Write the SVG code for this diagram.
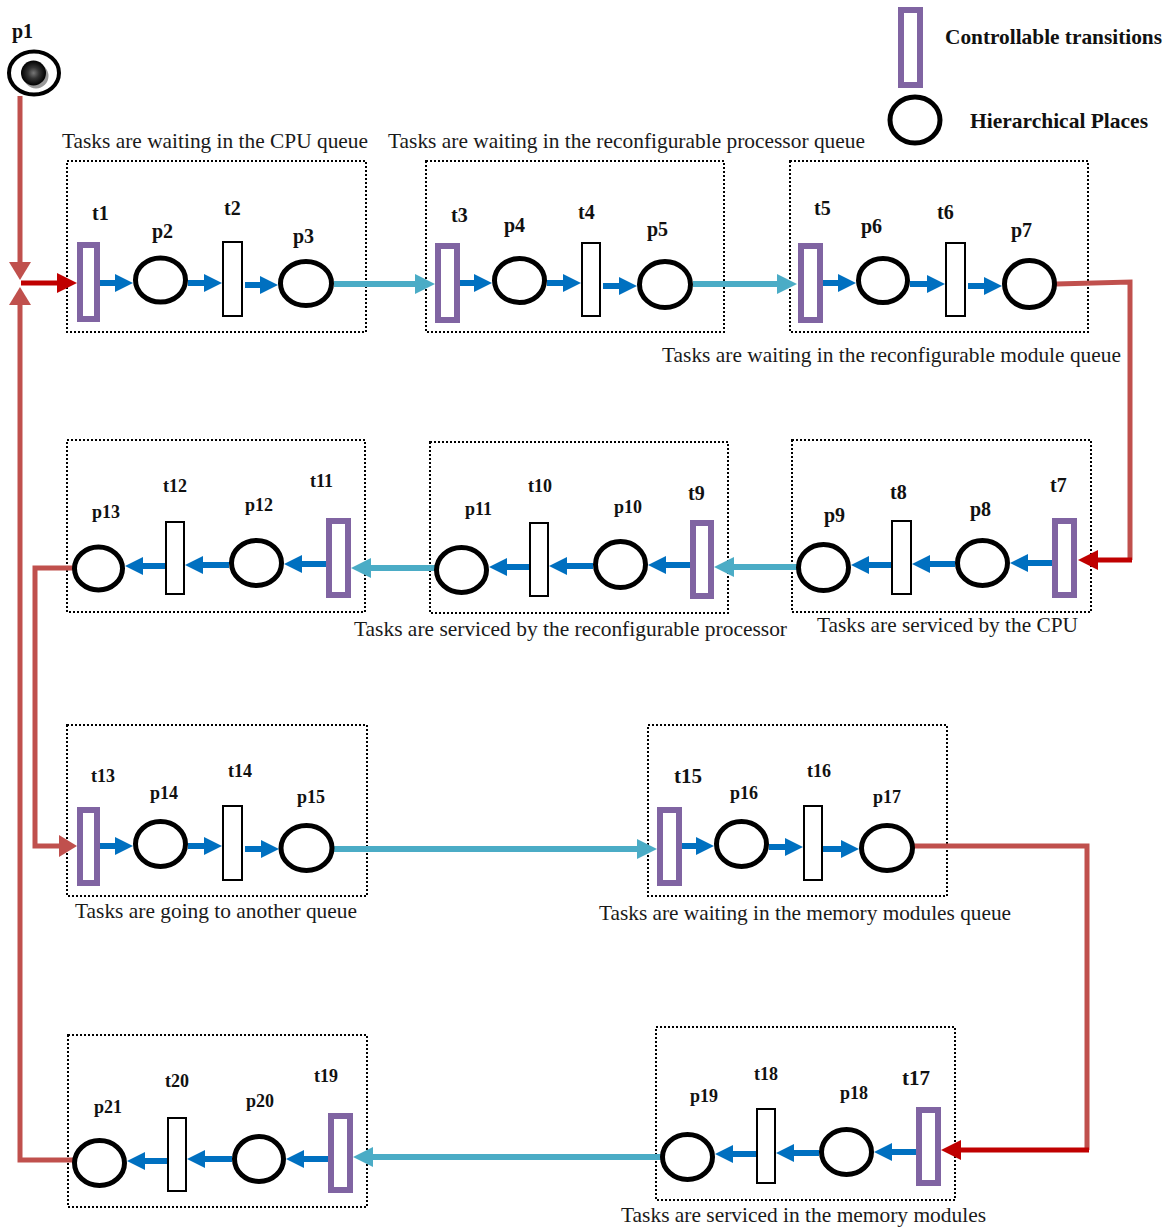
<svg xmlns="http://www.w3.org/2000/svg" width="1168" height="1228" viewBox="0 0 1168 1228">
<defs>
<style>
.box{fill:none;stroke:#000;stroke-width:2;stroke-dasharray:2 2}
.pl{fill:#fff;stroke:#000;stroke-width:5}
.tr{fill:#fff;stroke:#000;stroke-width:2}
.ct{fill:#fff;stroke:#8064a2;stroke-width:6}
.lb{font-family:"Liberation Serif","Times New Roman",serif;font-weight:bold;fill:#111}
.cap{font-family:"Liberation Serif","Times New Roman",serif;font-size:21px;fill:#1a1a1a}
.bl{fill:none;stroke:#0070c0;stroke-width:6;marker-end:url(#ab)}
.cy{fill:none;stroke:#4bacc6;stroke-width:6;marker-end:url(#ac)}
.rd{fill:none;stroke:#c0504d;stroke-width:5}
.dr{fill:none;stroke:#c00000;stroke-width:5;marker-end:url(#ad)}
</style>
<marker id="ab" viewBox="0 0 18 18" refX="9" refY="9" markerWidth="18" markerHeight="18" markerUnits="userSpaceOnUse" orient="auto"><path d="M0,0 L18,9 L0,18 z" fill="#0070c0"/></marker>
<marker id="ac" viewBox="0 0 20 20" refX="10" refY="10" markerWidth="20" markerHeight="20" markerUnits="userSpaceOnUse" orient="auto"><path d="M0,0 L20,10 L0,20 z" fill="#4bacc6"/></marker>
<marker id="ad" viewBox="0 0 20 20" refX="10" refY="10" markerWidth="20" markerHeight="20" markerUnits="userSpaceOnUse" orient="auto"><path d="M0,0 L20,10 L0,20 z" fill="#c00000"/></marker>
<marker id="ar" viewBox="0 0 18 22" refX="9" refY="11" markerWidth="18" markerHeight="22" markerUnits="userSpaceOnUse" orient="auto"><path d="M0,0 L18,11 L0,22 z" fill="#c0504d"/></marker>
<radialGradient id="tok" cx="0.5" cy="0.5" r="0.5" fx="0.5" fy="0.5">
<stop offset="0" stop-color="#777"/><stop offset="0.45" stop-color="#333"/><stop offset="1" stop-color="#000"/>
</radialGradient>
</defs>
<rect width="1168" height="1228" fill="#fff"/>

<!-- legend -->
<g id="legend">
<rect x="901" y="10" width="19" height="75" class="ct"/>
<text x="945" y="44" class="lb" font-size="21" textLength="217" lengthAdjust="spacingAndGlyphs">Controllable transitions</text>
<ellipse cx="915" cy="120" rx="25" ry="23" class="pl"/>
<text x="970" y="128" class="lb" font-size="21" textLength="178" lengthAdjust="spacingAndGlyphs">Hierarchical Places</text>
</g>

<!-- captions -->
<g id="captions">
<text x="62" y="148" class="cap" textLength="306" lengthAdjust="spacingAndGlyphs">Tasks are waiting in the CPU queue</text>
<text x="388" y="148" class="cap" textLength="477" lengthAdjust="spacingAndGlyphs">Tasks are waiting in the reconfigurable processor queue</text>
<text x="662" y="362" class="cap" textLength="459" lengthAdjust="spacingAndGlyphs">Tasks are waiting in the reconfigurable module queue</text>
<text x="354" y="636" class="cap" textLength="433" lengthAdjust="spacingAndGlyphs">Tasks are serviced by the reconfigurable processor</text>
<text x="817" y="632" class="cap" textLength="261" lengthAdjust="spacingAndGlyphs">Tasks are serviced by the CPU</text>
<text x="75" y="918" class="cap" textLength="282" lengthAdjust="spacingAndGlyphs">Tasks are going to another queue</text>
<text x="599" y="920" class="cap" textLength="412" lengthAdjust="spacingAndGlyphs">Tasks are waiting in the memory modules queue</text>
<text x="621" y="1222" class="cap" textLength="365" lengthAdjust="spacingAndGlyphs">Tasks are serviced in the memory modules</text>
</g>

<!-- boxes -->
<g id="boxes">
<rect x="67" y="161" width="299" height="171" class="box"/>
<rect x="426" y="161" width="298" height="171" class="box"/>
<rect x="790" y="161" width="298" height="171" class="box"/>
<rect x="67" y="440" width="298" height="172" class="box"/>
<rect x="430" y="442" width="298" height="171" class="box"/>
<rect x="792" y="440" width="299" height="172" class="box"/>
<rect x="67" y="725" width="300" height="171" class="box"/>
<rect x="648" y="725" width="299" height="171" class="box"/>
<rect x="68" y="1035" width="299" height="172" class="box"/>
<rect x="656" y="1027" width="299" height="173" class="box"/>
</g>

<!-- connectors -->
<g id="connectors">
<path class="rd" d="M20 96 V271" marker-end="url(#ar)"/>
<path class="dr" d="M21 283 H67"/>
<path class="rd" d="M74 1160 H20 V296" marker-end="url(#ar)"/>
<path class="rd" d="M1056 284 L1130 282 V560"/>
<path class="dr" d="M1132 560 H1088"/>
<path class="rd" d="M73 568 H35 V846 H68" marker-end="url(#ar)"/>
<path class="rd" d="M914 846 H1087 V1150"/>
<path class="dr" d="M1089 1150 H951"/>

<path class="cy" d="M334 284 H425"/>
<path class="cy" d="M693 284 H787"/>
<path class="cy" d="M797 567 H724"/>
<path class="cy" d="M435 568 H361"/>
<path class="cy" d="M334 849 H647"/>
<path class="cy" d="M661 1157 H363"/>

<path class="bl" d="M100 283 H124"/>
<path class="bl" d="M188 283 H213"/>
<path class="bl" d="M245 285 H269"/>
<path class="bl" d="M460 283 H483"/>
<path class="bl" d="M547 283 H572"/>
<path class="bl" d="M603 286 H628"/>
<path class="bl" d="M823 283 H847"/>
<path class="bl" d="M910 284 H936"/>
<path class="bl" d="M968 286 H993"/>
<path class="bl" d="M326 564 H293"/>
<path class="bl" d="M229 565 H194"/>
<path class="bl" d="M165 566 H134"/>
<path class="bl" d="M690 565 H657"/>
<path class="bl" d="M593 566 H558"/>
<path class="bl" d="M529 567 H498"/>
<path class="bl" d="M1052 563 H1019"/>
<path class="bl" d="M955 564 H921"/>
<path class="bl" d="M891 565 H860"/>
<path class="bl" d="M100 846 H124"/>
<path class="bl" d="M188 846 H213"/>
<path class="bl" d="M245 849 H270"/>
<path class="bl" d="M682 846 H705"/>
<path class="bl" d="M769 847 H794"/>
<path class="bl" d="M823 849 H850"/>
<path class="bl" d="M328 1159 H295"/>
<path class="bl" d="M232 1159 H196"/>
<path class="bl" d="M167 1161 H136"/>
<path class="bl" d="M916 1152 H883"/>
<path class="bl" d="M819 1153 H785"/>
<path class="bl" d="M756 1154 H724"/>
</g>

<!-- p1 -->
<g id="p1">
<ellipse cx="34" cy="73" rx="25" ry="21.5" fill="#fff" stroke="#000" stroke-width="4"/>
<circle cx="36" cy="76" r="12.5" fill="#999"/>
<circle cx="33.5" cy="73" r="12.5" fill="url(#tok)"/>
<text x="12" y="38" class="lb" font-size="20">p1</text>
</g>

<g id="t1"><rect x="80" y="245" width="17" height="74" class="ct"/><text x="92" y="220" class="lb" font-size="20">t1</text></g>
<g id="p2"><ellipse cx="160.5" cy="280" rx="25" ry="22" class="pl"/><text x="152" y="238" class="lb" font-size="20">p2</text></g>
<g id="t2"><rect x="223" y="242" width="19" height="74" class="tr"/><text x="224" y="215" class="lb" font-size="20">t2</text></g>
<g id="p3"><ellipse cx="306" cy="283.5" rx="25.5" ry="22" class="pl"/><text x="293" y="243" class="lb" font-size="20">p3</text></g>
<g id="t3"><rect x="438" y="246" width="19" height="74" class="ct"/><text x="451" y="222" class="lb" font-size="20">t3</text></g>
<g id="p4"><ellipse cx="519.5" cy="280.5" rx="25" ry="22" class="pl"/><text x="504" y="232" class="lb" font-size="20">p4</text></g>
<g id="t4"><rect x="582" y="243" width="18" height="73" class="tr"/><text x="578" y="219" class="lb" font-size="20">t4</text></g>
<g id="p5"><ellipse cx="665" cy="284.5" rx="25.5" ry="23" class="pl"/><text x="647" y="236" class="lb" font-size="20">p5</text></g>
<g id="t5"><rect x="801" y="246" width="19" height="74" class="ct"/><text x="814" y="215" class="lb" font-size="20">t5</text></g>
<g id="p6"><ellipse cx="883" cy="280.5" rx="24.5" ry="22" class="pl"/><text x="861" y="233" class="lb" font-size="20">p6</text></g>
<g id="t6"><rect x="946" y="243" width="19" height="73" class="tr"/><text x="937" y="219" class="lb" font-size="20">t6</text></g>
<g id="p7"><ellipse cx="1029.5" cy="284" rx="25" ry="23.5" class="pl"/><text x="1011" y="237" class="lb" font-size="20">p7</text></g>

<g id="t7"><rect x="1055" y="521" width="19" height="74" class="ct"/><text x="1050" y="492" class="lb" font-size="20">t7</text></g>
<g id="p8"><ellipse cx="982.5" cy="563" rx="25" ry="22.5" class="pl"/><text x="970" y="516" class="lb" font-size="20">p8</text></g>
<g id="t8"><rect x="892" y="521" width="19" height="73" class="tr"/><text x="890" y="499" class="lb" font-size="20">t8</text></g>
<g id="p9"><ellipse cx="823.5" cy="567.5" rx="25" ry="23" class="pl"/><text x="824" y="522" class="lb" font-size="20">p9</text></g>
<g id="t9"><rect x="693" y="523" width="18" height="73" class="ct"/><text x="688" y="500" class="lb" font-size="20">t9</text></g>
<g id="p10"><ellipse cx="620.5" cy="564.5" rx="25" ry="23" class="pl"/><text x="614" y="513" class="lb" font-size="18">p10</text></g>
<g id="t10"><rect x="530" y="523" width="18" height="73" class="tr"/><text x="528" y="492" class="lb" font-size="18">t10</text></g>
<g id="p11"><ellipse cx="461.5" cy="570" rx="25" ry="22.5" class="pl"/><text x="465" y="515" class="lb" font-size="18">p11</text></g>
<g id="t11"><rect x="329" y="521" width="19" height="74" class="ct"/><text x="310" y="487" class="lb" font-size="18">t11</text></g>
<g id="p12"><ellipse cx="256.5" cy="563" rx="25" ry="22.5" class="pl"/><text x="245" y="511" class="lb" font-size="18">p12</text></g>
<g id="t12"><rect x="166" y="522" width="18" height="72" class="tr"/><text x="163" y="492" class="lb" font-size="18">t12</text></g>
<g id="p13"><ellipse cx="98.5" cy="568.5" rx="24" ry="21.5" class="pl"/><text x="92" y="518" class="lb" font-size="18">p13</text></g>

<g id="t13"><rect x="80" y="810" width="17" height="73" class="ct"/><text x="91" y="782" class="lb" font-size="18">t13</text></g>
<g id="p14"><ellipse cx="160.5" cy="844" rx="25" ry="22.5" class="pl"/><text x="150" y="799" class="lb" font-size="18">p14</text></g>
<g id="t14"><rect x="223" y="806" width="19" height="74" class="tr"/><text x="228" y="777" class="lb" font-size="18">t14</text></g>
<g id="p15"><ellipse cx="306.5" cy="848" rx="25.5" ry="22.5" class="pl"/><text x="297" y="803" class="lb" font-size="18">p15</text></g>
<g id="t15"><rect x="660" y="810" width="19" height="73" class="ct"/><text x="674" y="783" class="lb" font-size="21">t15</text></g>
<g id="p16"><ellipse cx="741.5" cy="844" rx="25" ry="22.5" class="pl"/><text x="730" y="799" class="lb" font-size="18">p16</text></g>
<g id="t16"><rect x="804" y="806" width="18" height="74" class="tr"/><text x="807" y="777" class="lb" font-size="18">t16</text></g>
<g id="p17"><ellipse cx="887" cy="848" rx="25.5" ry="22.5" class="pl"/><text x="873" y="803" class="lb" font-size="18">p17</text></g>

<g id="t17"><rect x="919" y="1110" width="19" height="73" class="ct"/><text x="902" y="1085" class="lb" font-size="21">t17</text></g>
<g id="p18"><ellipse cx="846.5" cy="1152" rx="25" ry="22.5" class="pl"/><text x="840" y="1099" class="lb" font-size="18">p18</text></g>
<g id="t18"><rect x="757" y="1109" width="18" height="74" class="tr"/><text x="754" y="1080" class="lb" font-size="18">t18</text></g>
<g id="p19"><ellipse cx="687.5" cy="1157" rx="25" ry="22.5" class="pl"/><text x="690" y="1102" class="lb" font-size="18">p19</text></g>
<g id="t19"><rect x="331" y="1116" width="19" height="74" class="ct"/><text x="314" y="1082" class="lb" font-size="18">t19</text></g>
<g id="p20"><ellipse cx="259" cy="1159" rx="24.5" ry="22.5" class="pl"/><text x="246" y="1107" class="lb" font-size="18">p20</text></g>
<g id="t20"><rect x="168" y="1118" width="18" height="73" class="tr"/><text x="165" y="1087" class="lb" font-size="18">t20</text></g>
<g id="p21"><ellipse cx="99.5" cy="1163" rx="25" ry="22.5" class="pl"/><text x="94" y="1113" class="lb" font-size="18">p21</text></g>
</svg>
